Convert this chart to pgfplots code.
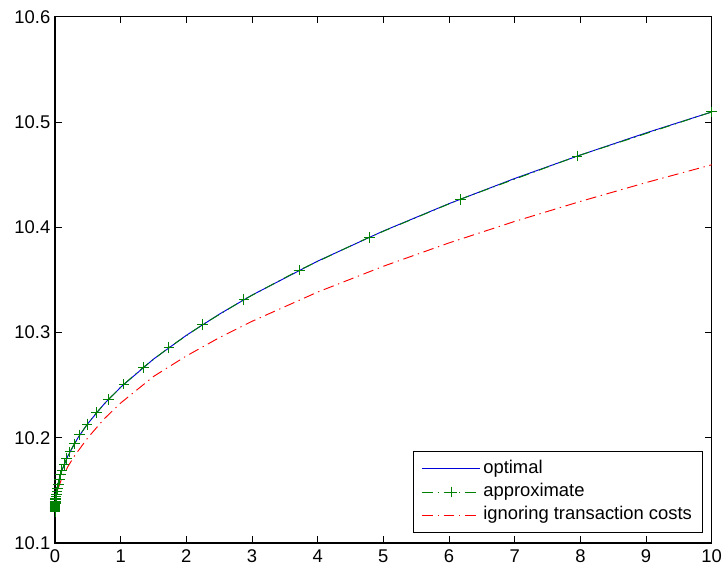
\documentclass[border=0pt]{standalone}
\usepackage{fontspec}
\setmainfont{Liberation Sans}
\usepackage{pgfplots}
\pgfplotsset{compat=1.18}

\definecolor{mblue}{rgb}{0,0,0.85}
\definecolor{mgreen}{rgb}{0,0.5,0}
\definecolor{mred}{rgb}{1,0,0}

\tikzset{mdashdot/.style={dash pattern=on 8pt off 3.5pt on 1pt off 3.5pt}}

\begin{document}
\begin{tikzpicture}
\begin{axis}[
    scale only axis,
    width=492.5pt,
    height=394.7pt,
    xmin=0, xmax=10,
    ymin=10.1, ymax=10.6,
    xtick={0,1,...,10},
    ytick={10.1,10.2,10.3,10.4,10.5,10.6},
    yticklabel style={/pgf/number format/.cd, fixed, fixed zerofill, precision=1},
    /pgf/number format/assume math mode=true,
    tick align=inside,
    major tick length=5pt,
    tick style={black, line width=0.6pt},
    axis line style={black, line width=0.8pt},
    ticklabel style={font=\fontsize{13.8}{16}\selectfont},
    xticklabel style={yshift=-1.5pt},
    legend cell align=left,
    legend style={
        at={(rel axis cs:0.9868,0.0196)}, anchor=south east,
        draw=black, line width=0.6pt, fill=white,
        font=\fontsize{13.8}{16}\selectfont,
        inner xsep=6pt, inner ysep=3.9pt, row sep=0pt,
        nodes={inner sep=2pt, text height=10pt, text depth=3.5pt},
    },
    legend image code/.code={
        \draw[#1, mark indices={2}]
            plot coordinates {(0pt,0pt) (21.75pt,0pt) (43.5pt,0pt)};
    },
]
% optimal
\addplot[mblue, line width=0.7pt] coordinates {
    (0,10.131) (0.003,10.137) (0.01,10.1437) (0.03,10.1519) (0.06,10.160)
    (0.1,10.1681) (0.2,10.1832) (0.35,10.2000) (0.5,10.2135) (0.75,10.2322)
    (1,10.248) (1.5,10.2747) (2,10.2973) (2.5,10.3173) (3,10.3355)
    (4,10.3678) (5,10.3964) (6,10.4224) (7,10.4463) (8,10.4686)
    (9,10.4896) (10,10.5095)
};
\addlegendentry{optimal}
% approximate
\addplot[mgreen, line width=0.7pt, mdashdot, mark=+, mark size=4pt,
    mark options={solid, line width=0.7pt}, mark indices={1,...,42}] coordinates {
    (0,10.1300) (0.0001,10.1310) (0.0002,10.1318) (0.0004,10.1326)
    (0.0006,10.1333) (0.0009,10.1340) (0.0013,10.1348) (0.0018,10.1356)
    (0.0025,10.1365) (0.0035,10.1375) (0.005,10.1386) (0.0068,10.1398)
    (0.009,10.1411) (0.012,10.1426) (0.016,10.1443) (0.021,10.1462)
    (0.028,10.1485) (0.037,10.1515) (0.049,10.1560) (0.064,10.1605)
    (0.082,10.1647) (0.106,10.1692) (0.137,10.1743) (0.176,10.1800)
    (0.227,10.1866) (0.293,10.1941) (0.378,10.2027) (0.488,10.2125)
    (0.63,10.2237) (0.81,10.2362) (1.05,10.2509) (1.344,10.2669)
    (1.735,10.2857) (2.248,10.3075) (2.877,10.3312) (3.718,10.3592)
    (4.784,10.3905) (6.17,10.4266) (7.95,10.4675) (10,10.5095)
};
\addlegendentry{approximate}
% ignoring transaction costs
\addplot[mred, line width=0.7pt, mdashdot] coordinates {
    (0,10.131) (0.02,10.145) (0.05,10.152) (0.1,10.161) (0.2,10.173)
    (0.3,10.183) (0.5,10.200) (0.75,10.218) (1,10.233) (1.5,10.2582)
    (2,10.2777) (2.5,10.295) (3,10.3106) (4,10.3384) (5,10.3629)
    (6,10.3851) (7,10.4055) (8,10.4245) (9,10.4424) (10,10.4593)
};
\addlegendentry{ignoring transaction costs}
\coordinate (bbl) at (rel axis cs:-0.08375,-0.0570);
\coordinate (btr) at (rel axis cs:1.01873,1.03173);
\end{axis}
\pgfresetboundingbox
\path (bbl) rectangle (btr);
\end{tikzpicture}
\end{document}
